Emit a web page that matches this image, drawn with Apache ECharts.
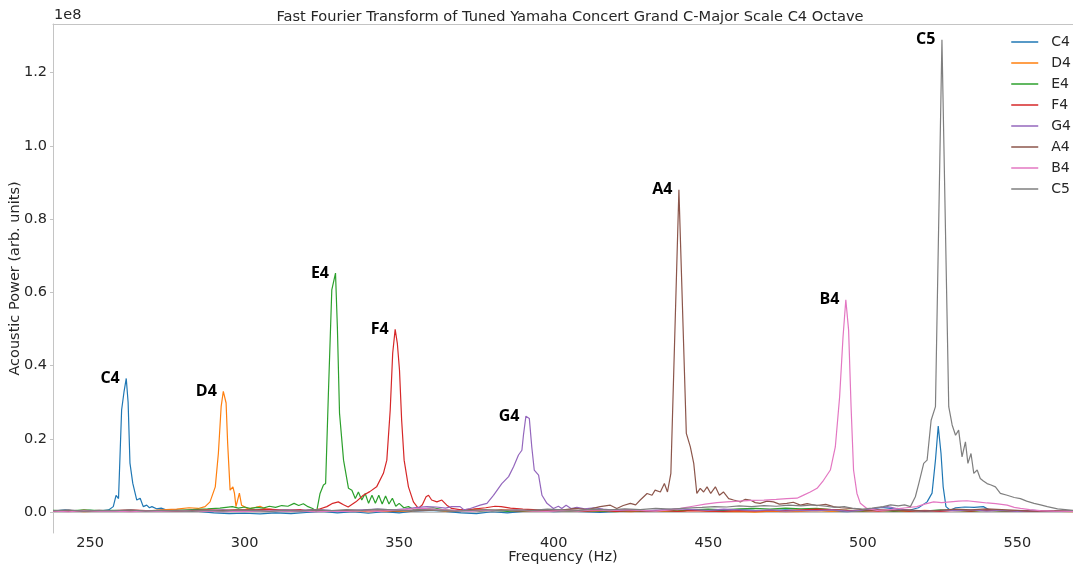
<!DOCTYPE html>
<html>
<head>
<meta charset="utf-8">
<script src="https://cdn.jsdelivr.net/npm/echarts@6/dist/echarts.min.js"></script>
<style>
  html, body { margin: 0; padding: 0; background: #ffffff; }
  #chart { width: 1073px; height: 567px; }
</style>
</head>
<body>
<div id="chart"></div>
<script>
// FFT power spectra of the C-major scale, C4 octave.
// Each note: [frequency (Hz), acoustic power (x 1e6, arb. units)]
const notes = ['C4', 'D4', 'E4', 'F4', 'G4', 'A4', 'B4', 'C5'];
const colors = ['#1f77b4', '#ff7f0e', '#2ca02c', '#d62728', '#9467bd', '#8c564b', '#e377c2', '#7f7f7f'];

const C4 = [[238,0.3],[242,0.6],[246,0.2],[250,0.5],[253,0.3],[256,0.6],[257.5,1.5],[258.4,4.6],[259.2,3.7],[260.2,27.9],[261.0,33],[261.7,36.5],[262.3,30],[262.9,13.4],[263.8,7.9],[265.1,3.3],[266.2,3.8],[267.2,1.5],[268.3,1.9],[269.2,1.2],[270,1.5],[271.5,0.9],[273,1.1],[275,0.5],[278,0.2],[282,0.4],[286,0.1],[290,-0.2],[295,-0.4],[300,-0.3],[305,-0.5],[310,-0.2],[315,-0.4],[320,-0.1],[325,0.2],[330,-0.2],[335,0.1],[340,-0.3],[345,0.1],[350,-0.2],[355,0.3],[360,0.5],[365,0.2],[370,-0.2],[375,-0.4],[380,0.1],[385,-0.2],[390,0.2],[395,0.4],[400,0.1],[405,0.3],[410,0.1],[415,-0.1],[420,0.2],[425,0.4],[430,0.2],[435,0.5],[440,0.3],[445,0.6],[450,0.4],[455,0.5],[460,0.7],[465,0.5],[470,0.4],[475,0.6],[480,0.4],[485,0.5],[490,0.3],[495,0.1],[500,0.4],[503,0.9],[506,1.3],[509,1.0],[512,0.6],[515,0.5],[518,1.2],[520.8,2.8],[522.4,5.2],[523.5,14.2],[524.4,23.5],[525.3,16],[526,6.9],[526.9,1.5],[528.3,0.5],[530,1.2],[533,1.4],[536,1.3],[539,1.5],[541,0.6],[545,0.4],[550,0.3],[555,0.5],[560,0.2],[568,0.3]];

const D4 = [[238,0.2],[243,0.4],[248,0.1],[253,0.3],[258,0.2],[263,0.5],[268,0.3],[273,0.6],[278,0.8],[282,1.2],[285,1.0],[287.2,1.5],[288.8,2.8],[290.5,6.9],[291.5,16],[292.4,28.8],[293.1,33],[294,29.8],[294.5,18.9],[295.3,6],[296.2,6.9],[296.7,5.2],[297.2,1.5],[298.3,5.2],[299,1.9],[299.8,1.5],[301,0.9],[303,1.2],[305,1.6],[307,0.8],[310,0.6],[315,0.4],[320,0.3],[325,0.5],[330,0.2],[335,0.4],[340,0.1],[345,0.3],[350,0.2],[355,0.4],[360,0.6],[365,0.3],[370,0.5],[375,0.8],[380,0.4],[385,0.6],[390,0.3],[395,0.2],[400,0.5],[405,0.3],[410,0.4],[415,0.2],[420,0.3],[425,0.1],[430,0.4],[435,0.2],[440,0.3],[445,0.5],[450,0.3],[455,0.1],[460,0.2],[465,0.0],[470,0.3],[475,0.1],[480,0.2],[485,0.4],[490,0.2],[495,0.5],[500,0.3],[505,0.6],[510,0.4],[515,0.2],[520,0.5],[525,0.3],[530,0.6],[535,0.4],[540,0.5],[545,0.3],[550,0.4],[555,0.2],[560,0.3],[568,0.1]];

const E4 = [[238,0.5],[243,0.3],[248,0.6],[253,0.4],[258,0.5],[263,0.3],[268,0.4],[273,0.2],[278,0.5],[283,0.7],[288,0.9],[292,1.1],[296,1.5],[298,1.1],[300,1.4],[302,1.0],[304,1.3],[306,1.1],[308,1.6],[310,1.3],[312,1.8],[314,1.6],[316,2.4],[317.5,1.8],[319,2.3],[320.5,1.5],[322,1.0],[323.3,0.2],[324.4,5.1],[325.5,7.4],[326.2,7.8],[327.1,32.4],[328.2,60.7],[329.4,65.3],[330,50.6],[330.7,27],[332,14.2],[333.6,6.5],[334.7,6],[335.8,3.7],[336.8,5.5],[337.9,3.3],[339,5.1],[340.1,2.4],[341.2,4.6],[342.3,2.4],[343.4,4.6],[344.5,2.2],[345.6,4.4],[346.7,2.2],[347.8,3.8],[348.9,1.6],[350,2.4],[351.5,1.2],[353,1.5],[355,0.6],[358,0.9],[361,1.2],[364,0.7],[368,0.4],[372,0.6],[376,0.3],[380,0.5],[385,0.2],[390,0.4],[395,0.3],[400,0.5],[405,0.2],[410,0.4],[415,0.3],[420,0.1],[425,0.4],[430,0.2],[435,0.5],[440,0.3],[445,0.6],[450,0.8],[455,0.6],[460,0.9],[465,1.0],[470,0.8],[475,1.1],[480,0.9],[485,1.0],[490,0.7],[495,0.5],[500,0.3],[505,0.5],[510,0.2],[515,0.4],[520,0.3],[525,0.6],[530,0.4],[535,0.2],[540,0.5],[545,0.3],[550,0.2],[555,0.4],[560,0.3],[568,0.2]];

const F4 = [[238,0.4],[243,0.2],[248,0.5],[253,0.3],[258,0.4],[263,0.6],[268,0.4],[273,0.3],[278,0.5],[283,0.4],[288,0.6],[293,0.5],[298,0.7],[303,0.6],[308,0.8],[313,0.5],[318,0.7],[321,0.2],[324,0.8],[326.6,1.5],[328.5,2.4],[330.3,2.8],[332,2.0],[333.5,1.4],[336,2.8],[338.4,4.6],[340.5,5.6],[342.7,6.9],[344.9,10.6],[346,14.2],[347.1,27.9],[347.9,43.4],[348.7,49.9],[349.4,46.1],[350.1,38.8],[350.8,25.1],[351.6,14.2],[353,6.9],[354.6,2.8],[356.2,1.0],[357.5,2.0],[358.7,4.2],[359.5,4.6],[360.5,3.3],[362.2,2.8],[363.8,3.3],[365.4,1.9],[367,1.0],[370,0.6],[374,0.8],[378,1.2],[381,1.6],[383,1.5],[386,1.1],[390,0.8],[395,0.6],[400,0.4],[405,0.6],[410,0.3],[415,0.5],[420,0.2],[425,0.4],[430,0.3],[435,0.5],[440,0.2],[445,0.4],[450,0.3],[455,0.2],[460,0.4],[465,0.3],[470,0.5],[475,0.4],[480,0.6],[485,0.8],[490,0.7],[495,0.5],[500,0.4],[505,0.3],[510,0.5],[515,0.3],[520,0.4],[525,0.2],[530,0.5],[535,0.3],[540,0.6],[545,0.4],[550,0.3],[555,0.2],[560,0.3],[568,0.2]];

const G4 = [[238,0.3],[243,0.5],[248,0.2],[253,0.4],[258,0.3],[263,0.5],[268,0.2],[273,0.4],[278,0.3],[283,0.5],[288,0.4],[293,0.6],[298,0.3],[303,0.5],[308,0.4],[313,0.6],[318,0.5],[323,0.7],[328,0.5],[333,0.4],[338,0.6],[343,0.8],[348,0.6],[352,0.9],[356,1.3],[359,1.5],[362,1.4],[365,1.1],[367,1.5],[369.7,1.5],[371,0.6],[373,1.0],[376.2,1.9],[378.4,2.4],[380.5,4.6],[383.2,7.8],[385.4,9.7],[387,12.4],[388.6,15.6],[389.7,16.9],[390.2,21],[391,26.2],[392.1,25.6],[392.9,17.8],[393.7,11.5],[395.1,10.1],[396.2,4.6],[397.8,2.4],[399.9,1.0],[401.5,1.6],[402.6,1.0],[404,1.9],[405.6,1.0],[407.5,1.3],[410,0.9],[413,1.2],[416,0.8],[420,0.5],[425,0.7],[430,0.4],[435,0.6],[440,0.9],[445,0.7],[450,0.5],[455,0.8],[460,0.6],[465,0.4],[470,0.6],[475,0.3],[480,0.5],[485,0.4],[490,0.6],[495,0.3],[500,0.5],[505,1.2],[508,1.5],[511,1.0],[515,0.5],[520,0.3],[525,0.5],[530,0.4],[535,0.6],[540,0.3],[545,0.5],[550,0.2],[555,0.4],[560,0.3],[568,0.2]];

const A4 = [[238,0.2],[243,0.4],[248,0.3],[253,0.5],[258,0.2],[263,0.4],[268,0.3],[273,0.5],[278,0.2],[283,0.4],[288,0.3],[293,0.5],[298,0.4],[303,0.6],[308,0.3],[313,0.5],[318,0.4],[323,0.6],[328,0.3],[333,0.5],[338,0.4],[343,0.6],[348,0.3],[353,0.5],[358,0.4],[363,0.6],[368,0.3],[373,0.5],[378,0.4],[383,0.6],[388,0.3],[393,0.5],[398,0.4],[403,0.6],[407,1.0],[411,0.7],[415,1.5],[418.3,1.9],[420.4,1.0],[422.5,1.8],[424.8,2.4],[426.5,2.0],[428,3.3],[430.2,5.1],[431.8,4.6],[432.8,6.0],[434.5,5.5],[435.8,7.8],[436.8,5.5],[437.9,10.6],[440.5,88],[442.9,21.5],[444.2,17.8],[445.3,13.3],[446.3,5.1],[447.4,6.5],[448.5,5.5],[449.6,6.9],[450.8,5.1],[452.3,6.9],[453.6,4.6],[454.9,5.5],[456.6,3.7],[458.2,3.3],[460.4,2.8],[462,3.5],[463.6,3.3],[465.2,2.6],[466.8,2.4],[469,3.0],[471.1,2.8],[473,2.2],[475.4,2.4],[477.5,2.7],[479.8,1.9],[482,2.3],[485,1.8],[488,2.1],[490.5,1.5],[493,1.2],[496,1.0],[498.5,0.8],[501.3,0.5],[505,0.7],[510,0.4],[515,0.6],[520,0.3],[525,0.5],[530,0.8],[535,0.6],[540,0.9],[545,0.7],[550,0.5],[555,0.3],[560,0.4],[568,0.2]];

const B4 = [[238,0.3],[243,0.1],[248,0.4],[253,0.2],[258,0.3],[263,0.1],[268,0.3],[273,0.2],[278,0.4],[283,0.2],[288,0.3],[293,0.1],[298,0.3],[303,0.2],[308,0.4],[313,0.2],[318,0.3],[323,0.1],[328,0.3],[333,0.2],[338,0.4],[343,0.2],[348,0.5],[353,0.8],[358,1.0],[363,0.7],[368,0.5],[373,0.3],[378,0.5],[383,0.4],[388,0.6],[393,0.3],[398,0.2],[403,0.4],[408,0.3],[413,0.6],[418,0.4],[423,0.7],[428,0.5],[433,0.3],[437.7,0.6],[441,1.0],[445,1.6],[449,2.2],[452.8,2.6],[456,2.8],[460,3.0],[464,3.2],[468,3.3],[472,3.5],[475.4,3.7],[478.7,3.8],[480.5,4.5],[483,5.5],[485.2,6.5],[487.3,8.7],[489.5,11.5],[491.1,17.8],[492.5,31.5],[493.6,47.9],[494.5,58],[495.4,49.7],[496.2,28.8],[497,11.5],[498.1,5.1],[499.2,2.4],[501.3,1.0],[504.6,0.5],[508,0.6],[511,0.9],[514,1.2],[517.5,1.5],[520,2.2],[522.9,2.8],[525.5,2.6],[528.3,2.8],[531,3.0],[533.7,3.1],[537,2.8],[540.2,2.5],[543,2.3],[546.7,1.9],[549,1.3],[551,1.0],[554,0.7],[557.4,0.4],[562,0.3],[568,0.2]];

const C5 = [[238,0.4],[243,0.6],[248,0.3],[253,0.5],[258,0.4],[263,0.6],[268,0.3],[273,0.5],[278,0.4],[283,0.2],[288,0.5],[293,0.3],[298,0.6],[303,0.4],[308,0.2],[313,0.5],[318,0.3],[323,0.6],[328,0.4],[333,0.7],[338,0.5],[343,0.8],[348,0.6],[353,0.4],[358,0.7],[363,0.5],[368,0.3],[373,0.5],[378,0.7],[383,0.4],[388,0.6],[393,0.5],[398,0.8],[403,0.6],[408,0.5],[413,0.8],[418,0.6],[423,0.9],[428,0.7],[433,1.0],[438,0.8],[443,1.1],[448,1.3],[452,1.5],[456,1.4],[460,1.7],[464,1.5],[468,1.8],[472,1.6],[476,1.9],[480,1.7],[484,2.0],[488,1.6],[491,1.3],[494,1.5],[497,1.0],[500,0.8],[503,1.1],[506.6,1.5],[509,2.0],[511.5,1.7],[513.5,2.0],[515.4,1.5],[517,4.2],[518.1,7.8],[519.7,13.3],[520.8,14.2],[522.1,25.1],[523.5,28.8],[525.6,129],[527.8,28.8],[528.9,23.8],[530,21],[531,22.4],[532.1,15.1],[533.2,19.2],[534,13.3],[535,16],[535.9,10.6],[537,11.5],[538,9.2],[539,8.5],[540.2,7.8],[541.5,7.4],[542.9,6.9],[544.5,5.1],[546.7,4.6],[549,4.0],[551,3.7],[553,3.0],[555.4,2.4],[557.5,2.0],[559.7,1.5],[563,0.9],[568,0.5]];

const spectra = [C4, D4, E4, F4, G4, A4, B4, C5];

// Axis ranges (frequency in Hz, power in 1e6 units shown as 1e8 on the axis)
const xRange = [238, 568];
const yRange = [-5.7, 133.3];

const FONT = 'DejaVu Sans';
const FS = 14.5;
const TEXT = '#262626';
const SPINE = '#c4c4c4';

const chart = echarts.init(document.getElementById('chart'), null, { renderer: 'canvas' });

const series = spectra.map((pts, i) => ({
  name: notes[i],
  type: 'line',
  data: pts,
  showSymbol: false,
  symbol: 'none',
  smooth: false,
  color: colors[i],
  lineStyle: { width: 1.2, color: colors[i] },
  z: 2 + i,
  markPoint: {
    symbol: 'circle',
    symbolSize: 1,
    itemStyle: { color: 'rgba(0,0,0,0)' },
    data: [{ type: 'max', valueDim: 'y' }],
    label: {
      show: true,
      position: 'left',
      distance: 6,
      formatter: notes[i],
      fontFamily: 'Open Sans',
      fontWeight: 'bold',
      fontSize: 16,
      color: '#000'
    }
  }
}));

chart.setOption({
  animation: false,
  backgroundColor: '#ffffff',
  title: {
    text: 'Fast Fourier Transform of Tuned Yamaha Concert Grand C-Major Scale C4 Octave',
    left: 565,
    textAlign: 'center',
    top: 5,
    textStyle: { fontFamily: FONT, fontSize: 14.6, fontWeight: 'normal', color: TEXT }
  },
  graphic: [{
    type: 'text',
    left: 54,
    top: 8,
    style: { text: '1e8', fontFamily: FONT, fontSize: FS, fill: TEXT }
  }],
  legend: {
    orient: 'vertical',
    right: -3,
    top: 30,
    itemWidth: 27,
    itemHeight: 1.5,
    itemGap: 7,
    icon: 'rect',
    data: notes,
    textStyle: { fontFamily: FONT, fontSize: 14, color: TEXT, padding: [0, 0, 0, 8] }
  },
  grid: { left: 53, right: 0, top: 24, bottom: 34, containLabel: false, outerBoundsMode: 'none' },
  xAxis: [{
    type: 'value',
    min: xRange[0],
    max: xRange[1],
    splitNumber: 7,
    name: 'Frequency (Hz)',
    nameLocation: 'middle',
    nameGap: 17,
    nameMoveOverlap: false,
    nameTextStyle: { fontFamily: FONT, fontSize: FS, color: TEXT },
    axisLine: { lineStyle: { color: SPINE, width: 1 } },
    axisTick: { show: false },
    splitLine: { show: false },
    axisLabel: {
      fontFamily: FONT, fontSize: FS, color: TEXT, margin: 3,
      showMinLabel: false, showMaxLabel: false
    }
  }, {
    type: 'value',
    position: 'top',
    min: xRange[0],
    max: xRange[1],
    axisLine: { show: true, lineStyle: { color: SPINE, width: 1 } },
    axisTick: { show: false },
    axisLabel: { show: false },
    splitLine: { show: false }
  }],
  yAxis: {
    type: 'value',
    min: yRange[0],
    max: yRange[1],
    splitNumber: 7,
    name: 'Acoustic Power (arb. units)',
    nameLocation: 'middle',
    nameGap: 30,
    nameMoveOverlap: false,
    nameTextStyle: { fontFamily: FONT, fontSize: FS, color: TEXT },
    axisLine: { show: true, lineStyle: { color: SPINE, width: 1 } },
    axisTick: { show: true, length: 3, lineStyle: { color: SPINE } },
    splitLine: { show: false },
    axisLabel: {
      fontFamily: FONT, fontSize: FS, color: TEXT, margin: 6,
      showMinLabel: false, showMaxLabel: false,
      formatter: v => (v / 100).toFixed(1)
    }
  },
  series: series
});
</script>
</body>
</html>
